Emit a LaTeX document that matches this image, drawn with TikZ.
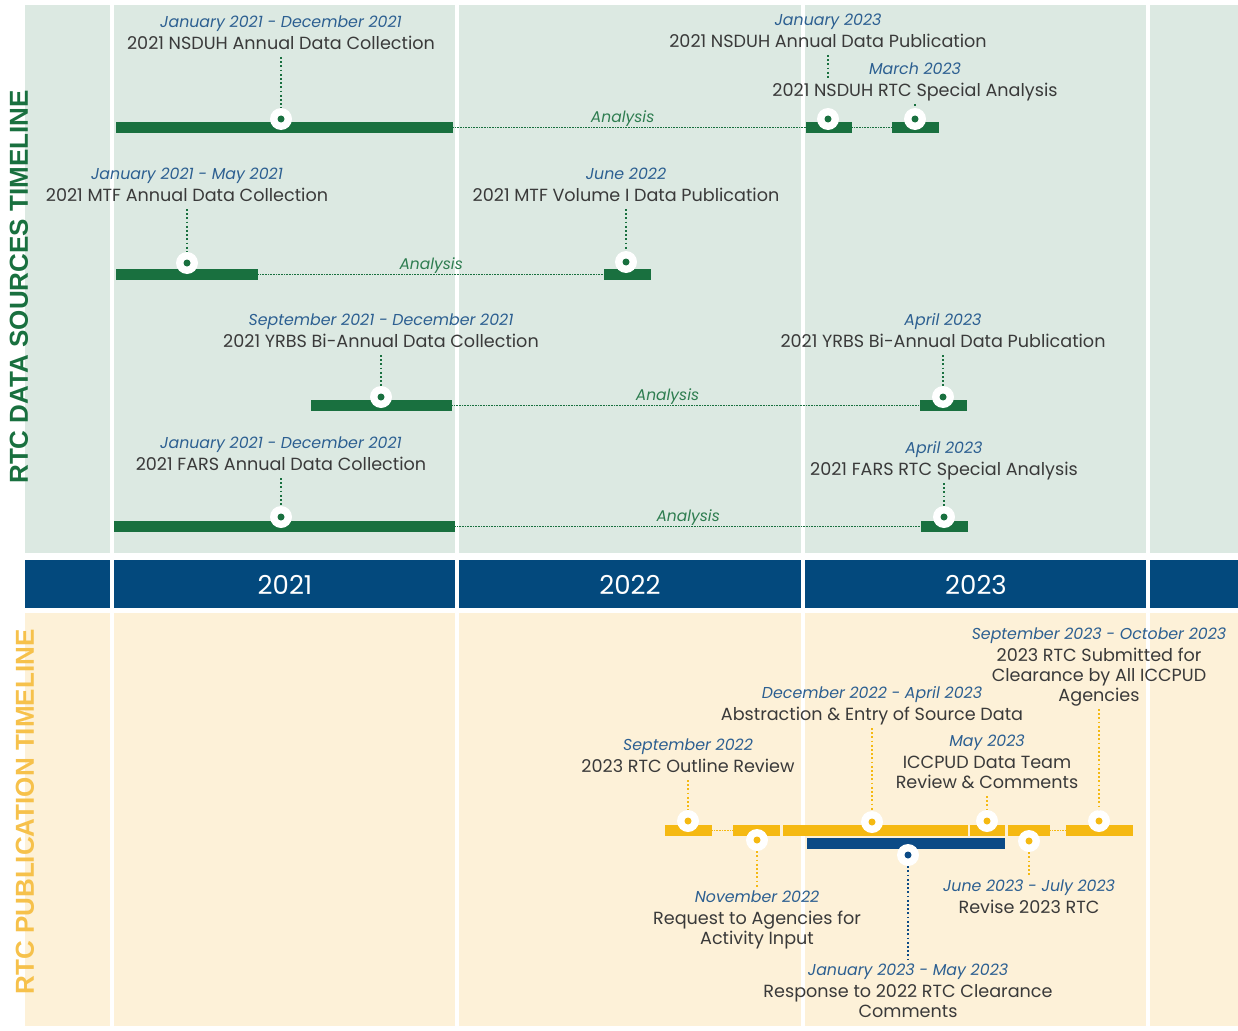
\documentclass[tikz,border=0pt]{standalone}
\usepackage{fontspec}
\setmainfont{Poppins}
\newfontfamily\sidefont{Liberation Sans}
\usepackage{tikz}
\usepackage{xcolor}
\tikzset{>=latex}
\definecolor{panelgreen}{HTML}{DCE9E2}
\definecolor{panelyellow}{HTML}{FDF1D8}
\definecolor{bandblue}{HTML}{03497D}
\definecolor{bargreen}{HTML}{19703F}
\definecolor{baryellow}{HTML}{F5B912}
\definecolor{barblue}{HTML}{0B4A86}
\definecolor{dateblue}{HTML}{2C5F91}
\definecolor{textgray}{HTML}{3A3A3A}
\definecolor{sideyellow}{HTML}{F6C14B}
\definecolor{anagreen}{HTML}{2E7D50}
\newcommand{\datefont}{\color{dateblue}\itshape\fontsize{15.8}{20}\selectfont}
\newcommand{\evt}[2]{{\datefont #1\strut}\\[2pt]#2\strut}

\begin{document}
\begin{tikzpicture}[x=1pt,y=-1pt,
		lbl/.style={align=center,inner sep=1pt,text=textgray,font=\fontsize{17.6}{20}\selectfont},
		barbox/.style={rectangle,inner sep=0pt,minimum height=11pt,anchor=west},
		pinring/.style={circle,fill=white,inner sep=0pt,minimum size=22pt},
		lead/.style={line width=1.8pt,dash pattern=on 1.8pt off 2.4pt},
		ana/.style={line width=0.8pt,dash pattern=on 0.8pt off 0.8pt},
		analbl/.style={above,inner sep=0.5pt,text=anagreen,font=\itshape\fontsize{15.5}{18}\selectfont},
		year/.style={text=white,font=\fontsize{26}{30}\selectfont},
		side/.style={rotate=90,font=\sidefont\bfseries\fontsize{26}{30}\selectfont}]
		\def\tbar#1#2#3#4#5{ % #1 Name, #2 Colour, #3 Start, #4 End, #5 Height
			\node[barbox,fill=#2,minimum width={#4-#3}] (#1) at (#3,#5) {};
		}
		\def\pin#1#2#3{ % #1 Name, #2 Centre, #3 Colour
			\node[pinring] (#1) at (#2) {};
			\fill[#3] (#1) circle[radius=3.5];
		}
		\useasboundingbox (0,0) rectangle (1238,1030);
		\foreach \a/\b in {25/110,114/455,459/801,805/1146,1150/1238}{
			\fill[panelgreen] (\a,5) rectangle (\b,553);
			\fill[bandblue] (\a,560) rectangle (\b,608);
			\fill[panelyellow] (\a,613) rectangle (\b,1026);
		}
		\node[side,text=bargreen] (srctitle) at (19,287) {RTC DATA SOURCES TIMELINE};
		\node[side,text=sideyellow] (pubtitle) at (25,812) {RTC PUBLICATION TIMELINE};
		\node[year] (y2021) at (285,585) {2021};
		\node[year] (y2022) at (630,585) {2022};
		\node[year] (y2023) at (976,585) {2023};
		
		% NSDUH
		\tbar{nsa}{bargreen}{116}{453}{127.5}
		\tbar{nsb}{bargreen}{806}{852}{127.5}
		\tbar{nsc}{bargreen}{892}{939}{127.5}
		\draw[ana,bargreen] (nsa.east) -- (nsb.west) node[analbl,pos=.48] (ana1) {Analysis};
		\draw[ana,bargreen] (nsb.east) -- (nsc.west);
		\pin{nsap}{281,119}{bargreen}
		\pin{nsbp}{828,119}{bargreen}
		\pin{nscp}{915,119}{bargreen}
		\node[lbl,anchor=south] (nscol) at (281,57) {\evt{January 2021 - December 2021}{2021 NSDUH Annual Data Collection}};
		\draw[lead,bargreen] (nscol.south) -- (nsap.north);
		\node[lbl,anchor=south] (nspub) at (828,55) {\evt{January 2023}{2021 NSDUH Annual Data Publication}};
		\coordinate (nspubend) at (828,80);
		\draw[lead,bargreen] (nspub.south) -- (nspubend);
		\node[lbl,anchor=south] (nsrtc) at (915,104) {\evt{March 2023}{2021 NSDUH RTC Special Analysis}};
		\draw[lead,bargreen] (nsrtc.south) -- (nscp.north);
		
		% MTF
		\tbar{mta}{bargreen}{116}{258}{274.5}
		\tbar{mtb}{bargreen}{604}{651}{274.5}
		\draw[ana,bargreen] (mta.east) -- (mtb.west) node[analbl,pos=.5] (ana2) {Analysis};
		\pin{mtap}{187,263}{bargreen}
		\pin{mtbp}{626,262}{bargreen}
		\node[lbl,anchor=south] (mtcol) at (187,209) {\evt{January 2021 - May 2021}{2021 MTF Annual Data Collection}};
		\draw[lead,bargreen] (mtcol.south) -- (mtap.north);
		\node[lbl,anchor=south] (mtpub) at (626,209) {\evt{June 2022}{2021 MTF Volume I Data Publication}};
		\draw[lead,bargreen] (mtpub.south) -- (mtbp.north);
		
		% YRBS
		\tbar{yra}{bargreen}{311}{452}{405.5}
		\tbar{yrb}{bargreen}{920}{967}{405.5}
		\draw[ana,bargreen] (yra.east) -- (yrb.west) node[analbl,pos=.46] (ana3) {Analysis};
		\pin{yrap}{381,397}{bargreen}
		\pin{yrbp}{943,397}{bargreen}
		\node[lbl,anchor=south] (yrcol) at (381,355) {\evt{September 2021 - December 2021}{2021 YRBS Bi-Annual Data Collection}};
		\draw[lead,bargreen] (yrcol.south) -- (yrap.north);
		\node[lbl,anchor=south] (yrpub) at (943,355) {\evt{April 2023}{2021 YRBS Bi-Annual Data Publication}};
		\draw[lead,bargreen] (yrpub.south) -- (yrbp.north);
		
		% FARS
		\tbar{faa}{bargreen}{114}{455}{526}
		\tbar{fab}{bargreen}{921}{968}{526}
		\draw[ana,bargreen] (faa.east) -- (fab.west) node[analbl,pos=.5] (ana4) {Analysis};
		\pin{faap}{281,517}{bargreen}
		\pin{fabp}{944,517}{bargreen}
		\node[lbl,anchor=south] (facol) at (281,478) {\evt{January 2021 - December 2021}{2021 FARS Annual Data Collection}};
		\draw[lead,bargreen] (facol.south) -- (faap.north);
		\node[lbl,anchor=south] (fartc) at (944,483) {\evt{April 2023}{2021 FARS RTC Special Analysis}};
		\draw[lead,bargreen] (fartc.south) -- (fabp.north);
		
		% RTC publication
		\tbar{pa}{baryellow}{665}{712}{830.5}
		\tbar{pb}{baryellow}{733}{780}{830.5}
		\tbar{pc}{baryellow}{783}{968}{830.5}
		\tbar{pd}{baryellow}{970}{1005}{830.5}
		\tbar{pe}{baryellow}{1008}{1050}{830.5}
		\tbar{pf}{baryellow}{1066}{1133}{830.5}
		\tbar{pblue}{barblue}{807}{1005}{843}
		\draw[ana,baryellow] (pa.east) -- (pb.west);
		\draw[ana,baryellow] (pe.east) -- (pf.west);
		\pin{pap}{688,821}{baryellow}
		\pin{pbp}{757,840}{baryellow}
		\pin{pcp}{872,822}{baryellow}
		\pin{pdp}{987,821}{baryellow}
		\pin{pep}{1029,841}{baryellow}
		\pin{pfp}{1099,821}{baryellow}
		\pin{pbluep}{908,855}{barblue}
		\node[lbl,anchor=south] (outline) at (688,780) {\evt{September 2022}{2023 RTC Outline Review}};
		\draw[lead,baryellow] (outline.south) -- (pap.north);
		\node[lbl,anchor=north] (request) at (757,887) {\evt{November 2022}{Request to Agencies for\\Activity Input}};
		\draw[lead,baryellow] (pbp.south) -- (request.north);
		\node[lbl,anchor=south] (abstract) at (872,728) {\evt{December 2022 - April 2023}{Abstraction \& Entry of Source Data}};
		\draw[lead,baryellow] (abstract.south) -- (pcp.north);
		\node[lbl,anchor=south] (review) at (987,796) {\evt{May 2023}{ICCPUD Data Team\\Review \& Comments}};
		\draw[lead,baryellow] (review.south) -- (pdp.north);
		\node[lbl,anchor=north] (revise) at (1029,876) {\evt{June 2023 - July 2023}{Revise 2023 RTC}};
		\draw[lead,baryellow] (pep.south) -- (revise.north);
		\node[lbl,anchor=south] (submit) at (1099,709) {\evt{September 2023 - October 2023}{2023 RTC Submitted for\\Clearance by All ICCPUD\\Agencies}};
		\draw[lead,baryellow] (submit.south) -- (pfp.north);
		\node[lbl,anchor=north] (respond) at (908,960) {\evt{January 2023 - May 2023}{Response to 2022 RTC Clearance\\Comments}};
		\draw[lead,barblue] (pbluep.south) -- (respond.north);
	\end{tikzpicture}
\end{document}
